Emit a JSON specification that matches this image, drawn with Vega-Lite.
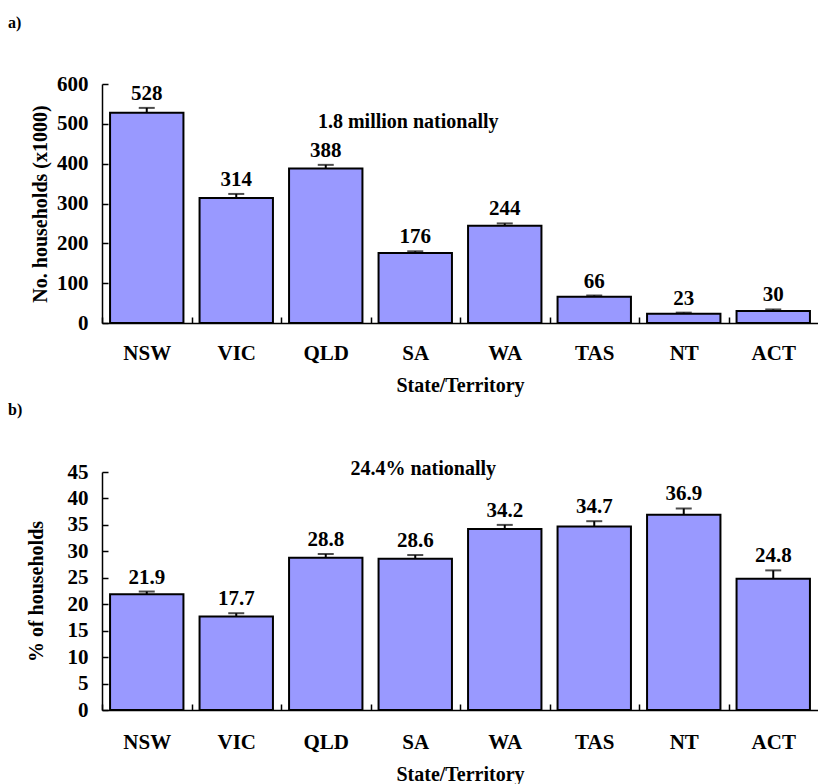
{
  "$schema": "https://vega.github.io/schema/vega-lite/v6.json",
  "padding": {"left": 8, "top": 15, "right": 0, "bottom": 0},
  "background": "white",
  "spacing": 6,
  "config": {
    "font": "Liberation Serif",
    "view": {"stroke": null},
    "axis": {
      "domainColor": "black", "domainWidth": 1.5,
      "tickColor": "black", "tickWidth": 1.5,
      "labelFont": "Liberation Serif", "labelFontSize": 21, "labelFontWeight": "bold", "labelColor": "black",
      "titleFont": "Liberation Serif", "titleFontSize": 20, "titleFontWeight": "bold", "titleColor": "black",
      "grid": false
    },
    "axisY": {"labelOverlap": false, "tickCount": 20},
    "title": {"font": "Liberation Serif", "fontSize": 16, "fontWeight": "bold", "color": "black"}
  },
  "datasets": {
    "households": [
      {"state": "NSW", "value": 528, "hi": 540},
      {"state": "VIC", "value": 314, "hi": 324},
      {"state": "QLD", "value": 388, "hi": 397},
      {"state": "SA", "value": 176, "hi": 180},
      {"state": "WA", "value": 244, "hi": 250},
      {"state": "TAS", "value": 66, "hi": 69},
      {"state": "NT", "value": 23, "hi": 26},
      {"state": "ACT", "value": 30, "hi": 34}
    ],
    "percent": [
      {"state": "NSW", "value": 21.9, "hi": 22.4},
      {"state": "VIC", "value": 17.7, "hi": 18.3},
      {"state": "QLD", "value": 28.8, "hi": 29.5},
      {"state": "SA", "value": 28.6, "hi": 29.3},
      {"state": "WA", "value": 34.2, "hi": 35.0},
      {"state": "TAS", "value": 34.7, "hi": 35.7},
      {"state": "NT", "value": 36.9, "hi": 38.1},
      {"state": "ACT", "value": 24.8, "hi": 26.4}
    ],
    "noteA": [{"note": "1.8 million nationally"}],
    "noteB": [{"note": "24.4% nationally"}]
  },
  "vconcat": [
    {
      "width": 716,
      "height": 239,
      "title": {"text": "a)", "anchor": "start", "frame": "group", "dx": -94, "offset": 42},
      "encoding": {
        "x": {
          "field": "state", "type": "nominal", "sort": null,
          "scale": {"paddingInner": 0.18, "paddingOuter": 0.09},
          "axis": {"labelAngle": 0, "tickSize": -6, "tickOffset": -44.75, "labelOffset": 44.75, "labelPadding": 25, "titlePadding": 12, "title": "State/Territory"}
        }
      },
      "layer": [
        {
          "data": {"name": "households"},
          "mark": {"type": "bar", "fill": "#9999FF", "stroke": "black", "strokeWidth": 2},
          "encoding": {
            "y": {"field": "value", "type": "quantitative", "scale": {"domain": [0, 600]},
              "axis": {"values": [0, 100, 200, 300, 400, 500, 600], "labelOverlap": false, "tickSize": -6, "labelPadding": 20, "titlePadding": 6, "title": "No. households (x1000)"}}
          }
        },
        {
          "data": {"name": "households"},
          "mark": {"type": "rule", "color": "black", "strokeWidth": 2},
          "encoding": {"y": {"field": "value", "type": "quantitative"}, "y2": {"field": "hi"}}
        },
        {
          "data": {"name": "households"},
          "mark": {"type": "tick", "color": "black", "thickness": 2, "size": 16},
          "encoding": {"y": {"field": "hi", "type": "quantitative"}}
        },
        {
          "data": {"name": "households"},
          "mark": {"type": "text", "baseline": "bottom", "dy": -4, "fontSize": 21, "fontWeight": "bold", "color": "black"},
          "encoding": {"y": {"field": "hi", "type": "quantitative"}, "text": {"field": "value", "type": "quantitative", "format": ".0f"}}
        },
        {
          "data": {"name": "noteA"},
          "mark": {"type": "text", "fontSize": 20, "fontWeight": "bold", "color": "black", "dx": -7},
          "encoding": {"x": {"datum": "SA"}, "y": {"datum": 504}, "text": {"field": "note"}}
        }
      ]
    },
    {
      "width": 716,
      "height": 238,
      "title": {"text": "b)", "anchor": "start", "frame": "group", "dx": -94, "offset": 41},
      "encoding": {
        "x": {
          "field": "state", "type": "nominal", "sort": null,
          "scale": {"paddingInner": 0.18, "paddingOuter": 0.09},
          "axis": {"labelAngle": 0, "tickSize": -6, "tickOffset": -44.75, "labelOffset": 44.75, "labelPadding": 27, "titlePadding": 12, "title": "State/Territory"}
        }
      },
      "layer": [
        {
          "data": {"name": "percent"},
          "mark": {"type": "bar", "fill": "#9999FF", "stroke": "black", "strokeWidth": 2},
          "encoding": {
            "y": {"field": "value", "type": "quantitative", "scale": {"domain": [0, 45]},
              "axis": {"values": [0, 5, 10, 15, 20, 25, 30, 35, 40, 45], "labelOverlap": false, "tickSize": -6, "labelPadding": 20, "titlePadding": 21, "title": "% of households"}}
          }
        },
        {
          "data": {"name": "percent"},
          "mark": {"type": "rule", "color": "black", "strokeWidth": 2},
          "encoding": {"y": {"field": "value", "type": "quantitative"}, "y2": {"field": "hi"}}
        },
        {
          "data": {"name": "percent"},
          "mark": {"type": "tick", "color": "black", "thickness": 2, "size": 16},
          "encoding": {"y": {"field": "hi", "type": "quantitative"}}
        },
        {
          "data": {"name": "percent"},
          "mark": {"type": "text", "baseline": "bottom", "dy": -4, "fontSize": 21, "fontWeight": "bold", "color": "black"},
          "encoding": {"y": {"field": "hi", "type": "quantitative"}, "text": {"field": "value", "type": "quantitative", "format": ".1f"}}
        },
        {
          "data": {"name": "noteB"},
          "mark": {"type": "text", "fontSize": 20, "fontWeight": "bold", "color": "black", "dx": 8},
          "encoding": {"x": {"datum": "SA"}, "y": {"datum": 45.6}, "text": {"field": "note"}}
        }
      ]
    }
  ]
}
